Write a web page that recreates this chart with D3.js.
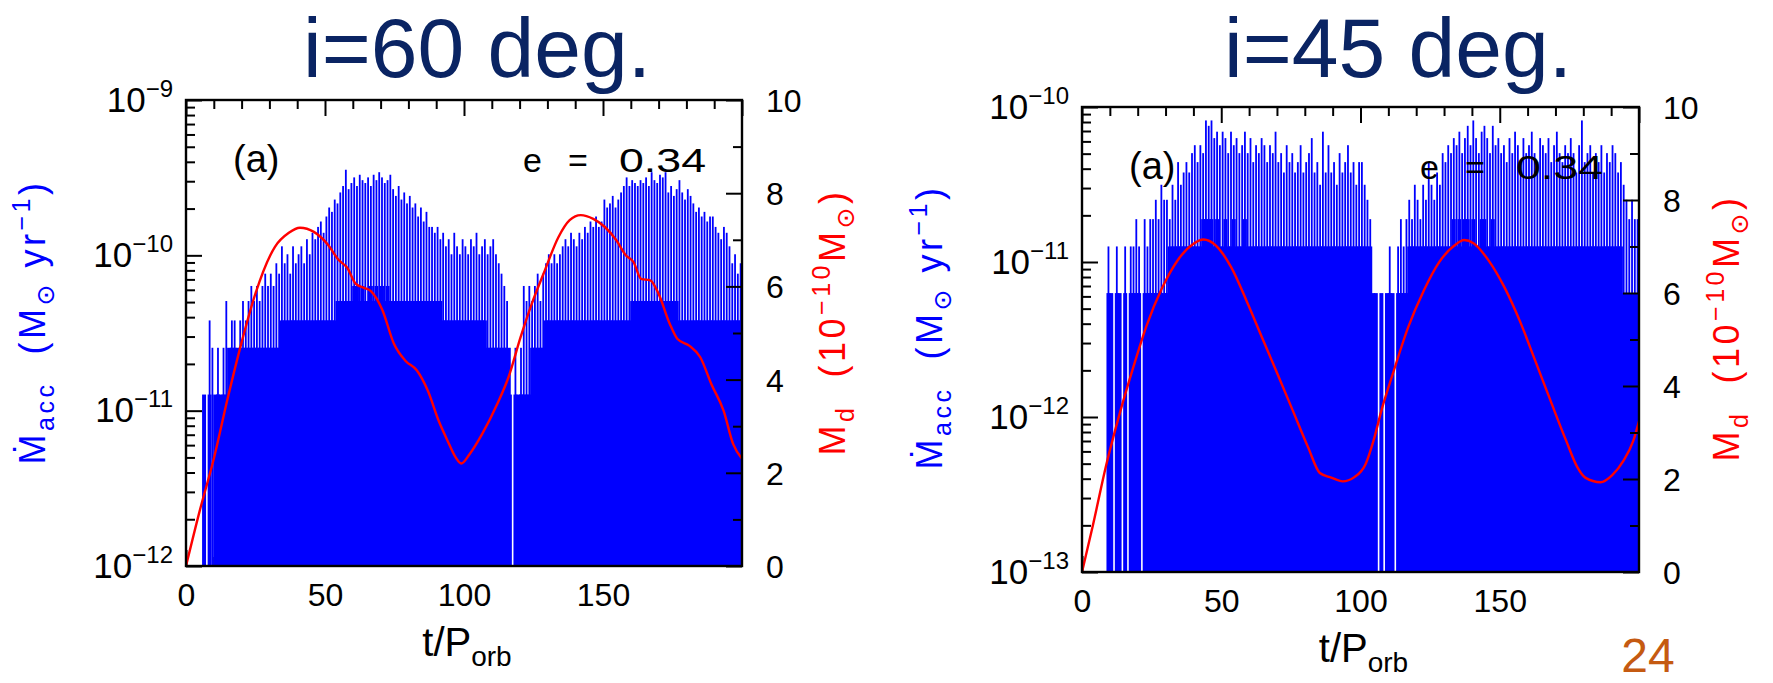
<!DOCTYPE html>
<html><head><meta charset="utf-8">
<script src="https://cdn.jsdelivr.net/npm/d3@7"></script>
<style>
body{margin:0;background:#fff;}
svg{display:block;font-family:"Liberation Sans","DejaVu Sans",Arial,sans-serif;}
</style></head><body>
<svg id="c" width="1773" height="683"></svg>
<script>
// ---------------- data ----------------
const panelTitles = ["i=60 deg.", "i=45 deg."];
const panelTags = ["(a)", "(a)"];
const eccParts = ["e", "=", "0.34"];
const pageNumber = "24";
const xTickLabels = [0, 50, 100, 150];
const mdTickLabels = [0, 2, 4, 6, 8, 10];
const tMax = 200;

// accretion-rate quantum (M_sun/yr) of each panel; bar heights = count * quantum
const quantum60 = 1.27e-11;
const quantum45 = 6.3e-12;
const logDomain60 = [1e-12, 1e-9];
const logDomain45 = [1e-13, 1e-10];

// per t/P_orb bin: solid (lower) level and spike (upper) level, in quanta
const base60 = [
0,0,0,0,0,0,1,0,1,0, 1,1,1,1,1,2,2,2,2,2, 2,2,2,2,2,2,2,2,2,2, 2,2,2,2,3,3,3,3,3,3,
3,3,3,3,3,3,3,3,3,3, 3,3,3,3,4,4,4,4,4,4, 5,5,4,5,4,4,5,4,5,4, 5,4,5,4,4,4,4,4,4,4,
4,4,4,4,4,4,4,4,4,4, 4,4,3,3,3,3,3,3,3,3, 3,3,3,3,3,3,3,3,2,2, 2,2,2,2,2,2,1,0,1,1,
1,1,1,1,2,2,2,2,2,3, 3,3,3,3,3,3,3,3,3,3, 3,3,3,3,3,3,3,3,3,3, 3,3,3,3,3,3,3,3,3,3,
4,4,4,4,4,4,4,4,4,4, 4,4,4,4,4,4,4,3,3,3, 3,3,3,3,3,3,3,3,3,3, 3,3,3,3,3,3,3,3,3,3];
const peak60 = [
0,0,0,0,0,0,1,0,3,2, 1,2,1,2,4,2,3,3,2,3, 4,3,4,5,4,5,4,5,6,5, 6,5,7,6,9,7,8,6,9,7,
8,9,7,10,8,11,10,12,13,11, 14,16,15,18,17,20,22,28,21,23, 25,22,26,24,23,25,22,26,24,27, 25,23,24,26,21,19,22,18,20,17,
19,16,17,14,16,13,15,12,12,11, 12,10,11,9,10,8,11,9,8,10, 9,8,10,9,11,8,9,10,8,9, 10,8,7,6,5,4,2,0,2,1,
2,5,4,5,4,5,6,4,6,7, 8,7,8,7,8,9,10,9,11,10, 9,11,10,12,11,13,12,14,12,13, 18,16,17,19,16,18,20,22,25,22,
24,23,22,24,23,25,22,27,24,23, 26,25,27,20,22,19,21,24,20,18, 21,19,17,15,16,14,15,13,14,14, 12,11,10,12,11,9,7,8,6,7];
const base45 = [
0,0,0,0,0,0,0,0,0,1, 1,0,1,1,0,1,0,1,1,1, 1,0,1,1,1,1,1,1,1,1, 1,2,2,2,2,2,2,2,2,2,
2,2,2,3,3,3,3,2,3,2, 2,3,2,2,3,2,2,2,3,2, 2,2,2,2,2,2,2,2,2,2, 2,2,2,2,2,2,2,2,2,2,
2,2,2,2,2,2,2,2,2,2, 2,2,2,2,2,2,2,2,2,2, 2,2,2,2,1,1,0,1,0,1, 1,1,0,1,1,1,1,2,2,2,
2,2,2,2,2,2,2,2,2,2, 2,2,2,3,2,3,2,3,3,2, 3,2,2,3,3,2,2,3,2,2, 2,2,2,2,2,2,2,2,2,2,
2,2,2,2,2,2,2,2,2,2, 2,2,2,2,2,2,2,2,2,2, 2,2,2,2,2,2,2,2,2,2, 2,2,2,2,1,1,1,1,1,1];
const peak45 = [
0,0,0,0,0,0,0,0,0,2, 1,0,2,1,0,2,0,2,2,3, 2,0,3,2,3,3,4,3,5,4, 4,3,5,4,7,5,6,7,6,8,
9,7,9,8,13,12,13,10,11,9, 11,10,8,11,9,10,8,9,11,8, 10,7,9,8,10,9,7,9,8,11, 7,8,6,9,7,8,6,7,9,6,
7,8,10,6,7,5,11,6,9,6, 7,5,8,6,7,9,6,7,5,7, 7,5,4,3,1,1,0,1,0,1, 2,1,0,2,3,2,3,4,3,5,
4,3,5,4,7,5,4,6,5,8, 7,9,8,10,9,11,8,10,12,9, 13,10,8,11,12,10,8,12,9,10, 8,9,7,10,8,11,9,7,10,8,
9,11,8,7,10,9,8,10,7,9, 11,8,7,9,8,10,8,6,9,13, 7,8,9,6,8,7,9,6,8,7, 9,8,6,7,5,4,3,4,3,3];

// disk mass M_d (1e-10 M_sun) vs t/P_orb
const mdTime60 = [0,5,10,15,20,25,32,37,41,46,51,55,58,61,64,66.5,70.6,74.8,79,83,87,91,94,97,99,102,106.5,112,116,120.3,124.4,128.6,134,138,142,146.5,150.6,154.8,158.2,161,163.7,167,170,174,176.8,181,185,189,193.4,196.8,200];
const mdMass60 = [0,1.2,2.3,3.6,4.8,5.85,6.85,7.15,7.26,7.17,6.9,6.56,6.4,6.06,5.97,5.9,5.5,4.77,4.4,4.2,3.76,3.1,2.7,2.33,2.2,2.4,2.83,3.48,4.05,4.9,5.63,6.27,7.06,7.42,7.53,7.45,7.28,6.99,6.67,6.52,6.16,6.13,5.84,5.2,4.87,4.73,4.48,3.9,3.33,2.62,2.3];
const mdTime45 = [0,3.9,8.7,13.5,18.4,23.2,28.7,34.3,39.8,43.6,48.1,53.6,59.1,64.6,70.2,75.7,81.2,85.4,89.5,93.6,97.8,101.9,104.7,107.5,111.6,117.1,122.7,128.2,133.7,137.2,140.6,146.1,151.7,157.2,162.7,168.2,173.8,177.9,180.7,186.2,190.3,194.5,198,200];
const mdMass45 = [0,1.0,2.3,3.4,4.4,5.3,6.1,6.7,7.05,7.15,7.02,6.55,5.83,5.05,4.26,3.47,2.68,2.13,2.03,1.95,2.04,2.33,2.83,3.47,4.26,5.26,6.05,6.66,7.02,7.14,7.07,6.69,6.12,5.40,4.55,3.69,2.83,2.25,2.03,1.93,2.08,2.40,2.83,3.24];

// ---------------- layout / style ----------------
const BLUE = "#0000ff", RED = "#ff0000", NAVY = "#0a2463";
const panels = [
  {x0:186, x1:742, y0:100, y1:566, title:panelTitles[0], titleX:477, tag:panelTags[0],
   q:quantum60, dom:logDomain60, base:base60, peak:peak60, mdT:mdTime60, mdV:mdMass60,
   blueLab:[45,322], redLab:[845,322], xTitleY:656},
  {x0:1082, x1:1639, y0:107, y1:572, title:panelTitles[1], titleX:1398, tag:panelTags[1],
   q:quantum45, dom:logDomain45, base:base45, peak:peak45, mdT:mdTime45, mdV:mdMass45,
   blueLab:[942,327], redLab:[1739,328], xTitleY:662}
];

const svg = d3.select("#c");
const FS = 32;

function styleAxis(g){
  g.select(".domain").remove();
  g.attr("font-family", null).attr("font-size", FS);
  g.selectAll("line").attr("stroke", "#000").attr("stroke-width", 2);
  g.selectAll("text").attr("fill", "#000");
}

function richText(sel, parts, big, small){
  // parts: [text, mode] mode: "", "sub", "sup"
  let cur = 0;
  parts.forEach(([t, m]) => {
    const target = m === "sub" ? 0.26*big : m === "sup" ? -0.42*big : 0;
    sel.append("tspan").attr("dy", target - cur).attr("font-size", m ? small : big).text(t);
    cur = target;
  });
}

panels.forEach(p => {
  const g = svg.append("g");
  const xs = d3.scaleLinear().domain([0, tMax]).range([p.x0, p.x1]);
  const ys = d3.scaleLog().domain(p.dom).range([p.y1, p.y0]);
  const yr = d3.scaleLinear().domain([0, 10]).range([p.y1, p.y0]);

  // bottom ticks (under the bars)
  const minorX = d3.range(0, tMax + 1, 10).filter(v => v % 50);
  g.append("g").attr("transform", `translate(0,${p.y1})`)
    .call(d3.axisBottom(xs).tickValues(minorX).tickSize(-9).tickFormat("")).call(styleAxis);
  g.append("g").attr("transform", `translate(0,${p.y1})`)
    .call(d3.axisBottom(xs).tickValues(xTickLabels).tickSize(-16).tickPadding(17).tickFormat(d3.format("d")))
    .call(styleAxis);

  // bars
  const bins = d3.range(tMax).map(i => ({t:i, b:p.base[i], k:p.peak[i]}));
  const bw = xs(1) - xs(0);
  g.append("g").selectAll("rect").data(bins.filter(d => d.b > 0)).join("rect")
    .attr("x", d => Math.max(p.x0, xs(d.t) - 0.6)).attr("width", bw + 1.2)
    .attr("y", d => ys(d.b * p.q)).attr("height", d => p.y1 - ys(d.b * p.q))
    .attr("fill", BLUE);
  g.append("g").selectAll("rect").data(bins.filter(d => d.k > d.b)).join("rect")
    .attr("x", d => xs(d.t + 0.5) - 0.9).attr("width", 1.8)
    .attr("y", d => ys(d.k * p.q)).attr("height", d => p.y1 - ys(d.k * p.q))
    .attr("fill", BLUE);

  // disk mass line
  const line = d3.line().x((d, i) => xs(p.mdT[i])).y(d => yr(d)).curve(d3.curveMonotoneX);
  g.append("path").datum(p.mdV).attr("d", line)
    .attr("fill", "none").attr("stroke", RED).attr("stroke-width", 2.4);

  // frame
  g.append("rect").attr("x", p.x0).attr("y", p.y0).attr("width", p.x1 - p.x0).attr("height", p.y1 - p.y0)
    .attr("fill", "none").attr("stroke", "#000").attr("stroke-width", 2.4);

  // top ticks
  g.append("g").attr("transform", `translate(0,${p.y0})`)
    .call(d3.axisTop(xs).tickValues(minorX).tickSize(-9).tickFormat("")).call(styleAxis);
  g.append("g").attr("transform", `translate(0,${p.y0})`)
    .call(d3.axisTop(xs).tickValues([0,50,100,150,200]).tickSize(-16).tickFormat("")).call(styleAxis);

  // left log axis
  const e0 = Math.round(Math.log10(p.dom[0])), e1 = Math.round(Math.log10(p.dom[1]));
  const decades = d3.range(e0, e1 + 1).map(e => Math.pow(10, e));
  const minorY = [];
  d3.range(e0, e1).forEach(e => { for (let k = 2; k <= 9; k++) minorY.push(k * Math.pow(10, e)); });
  g.append("g").attr("transform", `translate(${p.x0},0)`)
    .call(d3.axisLeft(ys).tickValues(minorY).tickSize(-9).tickFormat("")).call(styleAxis);
  const la = g.append("g").attr("transform", `translate(${p.x0},0)`)
    .call(d3.axisLeft(ys).tickValues(decades).tickSize(-16).tickPadding(13).tickFormat(""));
  styleAxis(la);
  la.selectAll(".tick text").each(function(d){
    const t = d3.select(this).attr("dy", null).attr("y", 11);
    const e = Math.round(Math.log10(d));
    richText(t, [["10",""],["\u2212" + Math.abs(e),"sup"]], 35, 24);
  });

  // right linear axis (disk mass)
  const ra1 = g.append("g").attr("transform", `translate(${p.x1},0)`)
    .call(d3.axisRight(yr).tickValues([1,3,5,7,9]).tickSize(-9).tickFormat(""));
  styleAxis(ra1);
  const ra = g.append("g").attr("transform", `translate(${p.x1},0)`)
    .call(d3.axisRight(yr).tickValues(mdTickLabels).tickSize(-16).tickPadding(24).tickFormat(d3.format("d")));
  styleAxis(ra);
  ra.selectAll(".tick text").attr("dy", "0.36em");

  // texts
  svg.append("text").attr("x", p.titleX).attr("y", 77).attr("text-anchor", "middle")
    .attr("font-size", 84).attr("fill", NAVY).text(p.title);
  svg.append("text").attr("x", p.x0 + 47).attr("y", p.y0 + 72).attr("font-size", 38).text(p.tag);
  const ey = p.y0 + 72;
  svg.append("text").attr("x", p.x1 - 219).attr("y", ey).attr("font-size", 34).text(eccParts[0]);
  svg.append("text").attr("x", p.x1 - 174).attr("y", ey).attr("font-size", 34).text(eccParts[1]);
  svg.append("text").attr("x", p.x1 - 123).attr("y", ey).attr("font-size", 34)
    .attr("textLength", 87).attr("lengthAdjust", "spacingAndGlyphs").text(eccParts[2]);

  const xt = svg.append("text").attr("x", (p.x0 + p.x1) / 2 + 3).attr("y", p.xTitleY)
    .attr("text-anchor", "middle").attr("fill", "#000");
  richText(xt, [["t/P",""],["orb","sub"]], 40, 28);

  const bl = svg.append("g").attr("transform", `translate(${p.blueLab[0]},${p.blueLab[1]}) rotate(-90)`)
    .append("text").attr("text-anchor", "middle").attr("fill", BLUE).style("white-space", "pre")
    .attr("letter-spacing", 3.5);
  richText(bl, [["\u1E40",""],["acc","sub"],["  (M",""],["\u2299","sub"],[" yr",""],["\u22121","sup"],[")",""]], 36, 25);

  const rl = svg.append("g").attr("transform", `translate(${p.redLab[0]},${p.redLab[1]}) rotate(-90)`)
    .append("text").attr("text-anchor", "middle").attr("fill", RED).style("white-space", "pre")
    .attr("letter-spacing", 3.5);
  richText(rl, [["M",""],["d","sub"],["  (10",""],["\u221210","sup"],["M",""],["\u2299","sub"],[")",""]], 36, 25);
});

svg.append("text").attr("x", 1648).attr("y", 672).attr("text-anchor", "middle")
  .attr("font-size", 48).attr("fill", "#c55a11").text(pageNumber);
</script>
</body></html>
